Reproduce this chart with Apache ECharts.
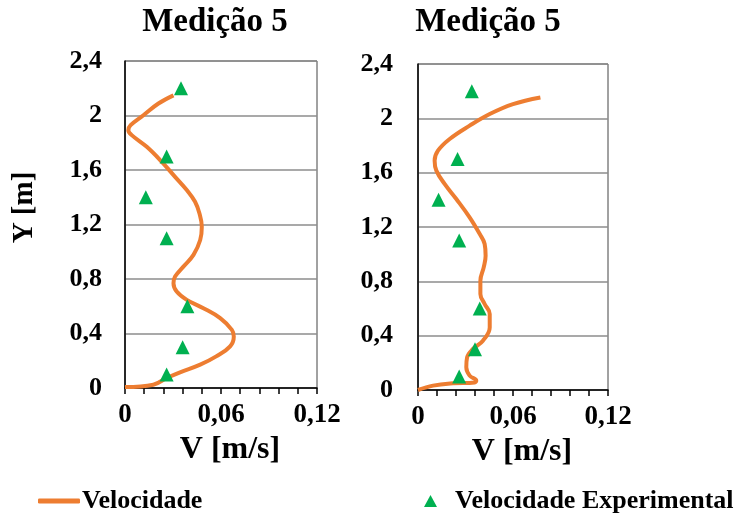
<!DOCTYPE html>
<html>
<head>
<meta charset="utf-8">
<script src="https://cdn.jsdelivr.net/npm/echarts@6/dist/echarts.min.js"></script>
<style>
  html, body { margin: 0; padding: 0; background: #fff; }
  #main { width: 740px; height: 516px; }
</style>
</head>
<body>
<div id="main"></div>
<script>
// panel titles
var panelTitles = ['Medição 5', 'Medição 5']

// left panel - modelled velocity profile (V [m/s], Y [m])
var leftModelV = [0, 0.0177, 0.026, 0.0344, 0.047, 0.057, 0.0657, 0.068, 0.0668, 0.0595, 0.049, 0.0386, 0.0323, 0.0303, 0.0313, 0.0365, 0.0428, 0.047, 0.048, 0.0465, 0.0438, 0.0386, 0.0313, 0.023, 0.0136, 0.0042, 0.0021, 0.0035, 0.0115, 0.0209, 0.0303]
var leftModelY = [0.007, 0.024, 0.073, 0.115, 0.171, 0.232, 0.305, 0.378, 0.427, 0.513, 0.586, 0.647, 0.708, 0.769, 0.818, 0.891, 0.977, 1.086, 1.184, 1.282, 1.367, 1.453, 1.55, 1.66, 1.77, 1.856, 1.892, 1.929, 2.002, 2.088, 2.148]
// left panel - measured points
var leftExpV = [0.026, 0.036, 0.039, 0.026, 0.013, 0.026, 0.035]
var leftExpY = [0.1, 0.3, 0.6, 1.1, 1.4, 1.7, 2.2]

// right panel - modelled velocity profile
var rightModelV = [0, 0.0095, 0.0221, 0.0358, 0.0368, 0.0326, 0.0305, 0.031, 0.0347, 0.041, 0.0453, 0.0453, 0.0421, 0.0394, 0.0394, 0.0415, 0.0427, 0.0421, 0.039, 0.0326, 0.0242, 0.0168, 0.0116, 0.0105, 0.0126, 0.02, 0.0326, 0.0453, 0.06, 0.0773]
var rightModelY = [0, 0.032, 0.049, 0.056, 0.069, 0.106, 0.167, 0.24, 0.302, 0.363, 0.461, 0.56, 0.633, 0.707, 0.805, 0.903, 0.989, 1.075, 1.148, 1.271, 1.406, 1.517, 1.615, 1.688, 1.762, 1.848, 1.946, 2.032, 2.105, 2.154]
// right panel - measured points
var rightExpV = [0.026, 0.036, 0.039, 0.026, 0.013, 0.025, 0.034]
var rightExpY = [0.1, 0.3, 0.6, 1.1, 1.4, 1.7, 2.2]

var xTicks = { min: 0, max: 0.12, interval: 0.06 }
var yTicks = { min: 0, max: 2.4, interval: 0.4 }

var FONT = "'Liberation Serif', 'Times New Roman', serif"

function pairs(xs, ys) {
  return xs.map(function (v, i) { return [v, ys[i]] })
}
function comma(v) {
  return String(+v.toFixed(3)).replace('.', ',')
}

function makeX(idx) {
  return {
    type: 'value',
    gridIndex: idx,
    min: xTicks.min,
    max: xTicks.max,
    interval: xTicks.interval,
    name: 'V [m/s]',
    nameLocation: 'middle',
    nameGap: 44,
    nameTextStyle: { fontFamily: FONT, fontWeight: 'bold', fontSize: 32, color: '#000', padding: [0, 0, 0, 18] },
    axisLine: { show: true, onZero: false, lineStyle: { color: '#000', width: 1.5 } },
    axisTick: { show: true, length: 6, lineStyle: { color: '#000', width: 1.5 } },
    minorTick: { show: true, splitNumber: 5, length: 6, lineStyle: { color: '#000', width: 1.5 } },
    splitLine: { show: false },
    axisLabel: {
      margin: 14,
      fontFamily: FONT, fontWeight: 'bold', fontSize: 27, color: '#000',
      formatter: comma
    }
  }
}

function makeY(idx, showName, margin) {
  return {
    type: 'value',
    gridIndex: idx,
    min: yTicks.min,
    max: yTicks.max,
    interval: yTicks.interval,
    name: showName ? 'Y [m]' : '',
    nameLocation: 'middle',
    nameGap: 86,
    nameTextStyle: { fontFamily: FONT, fontWeight: 'bold', fontSize: 29, color: '#000', padding: [0, 0, 0, 34] },
    axisLine: { show: true, lineStyle: { color: '#000', width: 1.5 } },
    axisTick: { show: false },
    splitLine: { show: true, lineStyle: { color: '#8c8c8c', width: 1.5 } },
    axisLabel: {
      margin: margin,
      fontFamily: FONT, fontWeight: 'bold', fontSize: 26, color: '#000',
      formatter: comma
    }
  }
}

function modelSeries(idx, xs, ys) {
  return {
    name: 'Velocidade',
    type: 'line',
    xAxisIndex: idx,
    yAxisIndex: idx,
    data: pairs(xs, ys),
    symbol: 'none',
    smooth: 0.4,
    lineStyle: { color: '#ED7D31', width: 4 },
    itemStyle: { color: '#ED7D31' },
    z: 2
  }
}

function expSeries(idx, xs, ys) {
  return {
    name: 'Velocidade Experimental',
    type: 'scatter',
    xAxisIndex: idx,
    yAxisIndex: idx,
    data: pairs(xs, ys),
    symbol: 'triangle',
    symbolSize: 14,
    itemStyle: { color: '#00B050', opacity: 1 },
    z: 3
  }
}

var chart = echarts.init(document.getElementById('main'))
chart.setOption({
  animation: false,
  backgroundColor: '#fff',
  title: [
    { text: panelTitles[0], left: 215, top: 6, padding: 0, textAlign: 'center',
      textStyle: { fontFamily: FONT, fontWeight: 'bold', fontSize: 33, color: '#000' } },
    { text: panelTitles[1], left: 488, top: 6, padding: 0, textAlign: 'center',
      textStyle: { fontFamily: FONT, fontWeight: 'bold', fontSize: 33, color: '#000' } }
  ],
  legend: [
    {
      data: [{ name: 'Velocidade', icon: 'roundRect' }],
      left: 38, top: 488, padding: 0,
      itemWidth: 42, itemHeight: 5,
      textStyle: { fontFamily: FONT, fontWeight: 'bold', fontSize: 26, color: '#000', padding: [0, 0, 0, -3] }
    },
    {
      data: [{ name: 'Velocidade Experimental', icon: 'triangle' }],
      left: 424, top: 488, padding: 0,
      itemWidth: 13, itemHeight: 12,
      itemStyle: { color: '#00B050', opacity: 1 },
      textStyle: { fontFamily: FONT, fontWeight: 'bold', fontSize: 26, color: '#000', padding: [0, 0, 0, 13] }
    }
  ],
  grid: [
    { left: 125, top: 61, width: 192, height: 327, show: true, borderColor: '#444', borderWidth: 1, backgroundColor: 'transparent' },
    { left: 418, top: 64, width: 190, height: 326, show: true, borderColor: '#444', borderWidth: 1, backgroundColor: 'transparent' }
  ],
  xAxis: [makeX(0), makeX(1)],
  yAxis: [makeY(0, true, 23), makeY(1, false, 25)],
  series: [
    modelSeries(0, leftModelV, leftModelY),
    expSeries(0, leftExpV, leftExpY),
    modelSeries(1, rightModelV, rightModelY),
    expSeries(1, rightExpV, rightExpY)
  ]
})
window.addEventListener('resize', function () { chart.resize() })
</script>
</body>
</html>
